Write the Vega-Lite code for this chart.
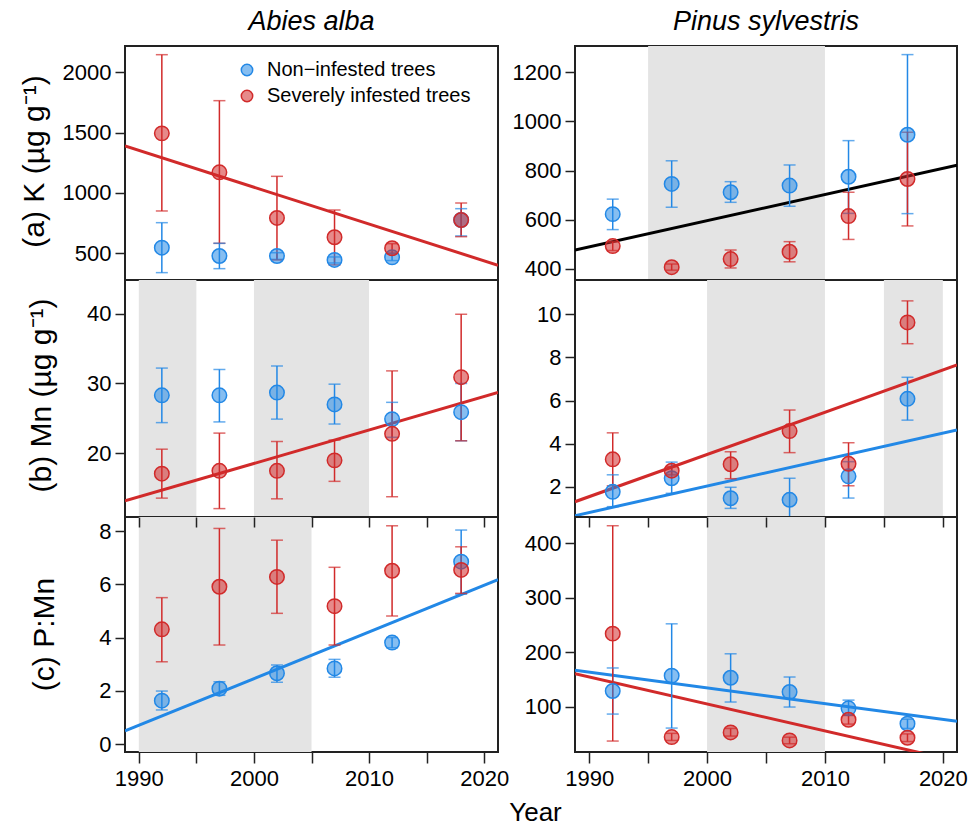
{
  "$schema": "https://vega.github.io/schema/vega-lite/v6.json",
  "autosize": "none",
  "padding": {"left": 125, "top": 46, "right": 845, "bottom": 779},
  "columns": 2,
  "spacing": {"row": 0, "column": 77},
  "bounds": "flush",
  "resolve": {"scale": {"color": "independent", "fill": "independent", "stroke": "independent"}},
  "datasets": {
    "pts": [
      {"panel": "aL", "group": "Non−infested trees", "year": 1992, "value": 547, "lo": 340, "hi": 754},
      {"panel": "aL", "group": "Non−infested trees", "year": 1997, "value": 478, "lo": 373, "hi": 583},
      {"panel": "aL", "group": "Non−infested trees", "year": 2002, "value": 478, "lo": 450, "hi": 505},
      {"panel": "aL", "group": "Non−infested trees", "year": 2007, "value": 445, "lo": 420, "hi": 470},
      {"panel": "aL", "group": "Non−infested trees", "year": 2012, "value": 467, "lo": 440, "hi": 500},
      {"panel": "aL", "group": "Non−infested trees", "year": 2018, "value": 776, "lo": 644, "hi": 870},
      {"panel": "aL", "group": "Severely infested trees", "year": 1992, "value": 1494, "lo": 851, "hi": 2146},
      {"panel": "aL", "group": "Severely infested trees", "year": 1997, "value": 1171, "lo": 583, "hi": 1765},
      {"panel": "aL", "group": "Severely infested trees", "year": 2002, "value": 793, "lo": 445, "hi": 1138},
      {"panel": "aL", "group": "Severely infested trees", "year": 2007, "value": 633, "lo": 404, "hi": 859},
      {"panel": "aL", "group": "Severely infested trees", "year": 2012, "value": 542, "lo": 500, "hi": 580},
      {"panel": "aL", "group": "Severely infested trees", "year": 2018, "value": 776, "lo": 638, "hi": 917},
      {"panel": "aR", "group": "Non−infested trees", "year": 1992, "value": 623, "lo": 560, "hi": 684},
      {"panel": "aR", "group": "Non−infested trees", "year": 1997, "value": 746, "lo": 651, "hi": 840},
      {"panel": "aR", "group": "Non−infested trees", "year": 2002, "value": 712, "lo": 671, "hi": 755},
      {"panel": "aR", "group": "Non−infested trees", "year": 2007, "value": 739, "lo": 655, "hi": 823},
      {"panel": "aR", "group": "Non−infested trees", "year": 2012, "value": 775, "lo": 626, "hi": 922},
      {"panel": "aR", "group": "Non−infested trees", "year": 2017, "value": 946, "lo": 625, "hi": 1272},
      {"panel": "aR", "group": "Severely infested trees", "year": 1992, "value": 493, "lo": 475, "hi": 510},
      {"panel": "aR", "group": "Severely infested trees", "year": 1997, "value": 407, "lo": 395, "hi": 420},
      {"panel": "aR", "group": "Severely infested trees", "year": 2002, "value": 440, "lo": 404, "hi": 477},
      {"panel": "aR", "group": "Severely infested trees", "year": 2007, "value": 470, "lo": 429, "hi": 511},
      {"panel": "aR", "group": "Severely infested trees", "year": 2012, "value": 615, "lo": 520, "hi": 712},
      {"panel": "aR", "group": "Severely infested trees", "year": 2017, "value": 766, "lo": 575, "hi": 956},
      {"panel": "bL", "group": "Non−infested trees", "year": 1992, "value": 28.3, "lo": 24.4, "hi": 32.2},
      {"panel": "bL", "group": "Non−infested trees", "year": 1997, "value": 28.3, "lo": 24.5, "hi": 32.0},
      {"panel": "bL", "group": "Non−infested trees", "year": 2002, "value": 28.7, "lo": 24.9, "hi": 32.5},
      {"panel": "bL", "group": "Non−infested trees", "year": 2007, "value": 27.0, "lo": 24.2, "hi": 29.9},
      {"panel": "bL", "group": "Non−infested trees", "year": 2012, "value": 24.9, "lo": 22.3, "hi": 27.3},
      {"panel": "bL", "group": "Non−infested trees", "year": 2018, "value": 25.9, "lo": 21.8, "hi": 30.0},
      {"panel": "bL", "group": "Severely infested trees", "year": 1992, "value": 17.1, "lo": 13.6, "hi": 20.6},
      {"panel": "bL", "group": "Severely infested trees", "year": 1997, "value": 17.5, "lo": 12.1, "hi": 22.9},
      {"panel": "bL", "group": "Severely infested trees", "year": 2002, "value": 17.5, "lo": 13.5, "hi": 21.7},
      {"panel": "bL", "group": "Severely infested trees", "year": 2007, "value": 19.0, "lo": 16.0, "hi": 21.9},
      {"panel": "bL", "group": "Severely infested trees", "year": 2012, "value": 22.8, "lo": 13.8, "hi": 31.8},
      {"panel": "bL", "group": "Severely infested trees", "year": 2018, "value": 30.9, "lo": 21.8, "hi": 39.9},
      {"panel": "bR", "group": "Non−infested trees", "year": 1992, "value": 1.76, "lo": 1.07, "hi": 2.55},
      {"panel": "bR", "group": "Non−infested trees", "year": 1997, "value": 2.39, "lo": 1.69, "hi": 3.14},
      {"panel": "bR", "group": "Non−infested trees", "year": 2002, "value": 1.46, "lo": 0.99, "hi": 1.97},
      {"panel": "bR", "group": "Non−infested trees", "year": 2007, "value": 1.39, "lo": 0.4, "hi": 2.39},
      {"panel": "bR", "group": "Non−infested trees", "year": 2012, "value": 2.48, "lo": 1.47, "hi": 3.16},
      {"panel": "bR", "group": "Non−infested trees", "year": 2017, "value": 6.08, "lo": 5.09, "hi": 7.08},
      {"panel": "bR", "group": "Severely infested trees", "year": 1992, "value": 3.27, "lo": 2.04, "hi": 4.5},
      {"panel": "bR", "group": "Severely infested trees", "year": 1997, "value": 2.74, "lo": 2.55, "hi": 2.93},
      {"panel": "bR", "group": "Severely infested trees", "year": 2002, "value": 3.04, "lo": 2.37, "hi": 3.62},
      {"panel": "bR", "group": "Severely infested trees", "year": 2007, "value": 4.58, "lo": 3.58, "hi": 5.56},
      {"panel": "bR", "group": "Severely infested trees", "year": 2012, "value": 3.06, "lo": 2.04, "hi": 4.04},
      {"panel": "bR", "group": "Severely infested trees", "year": 2017, "value": 9.63, "lo": 8.64, "hi": 10.63},
      {"panel": "cL", "group": "Non−infested trees", "year": 1992, "value": 1.63, "lo": 1.28, "hi": 1.99},
      {"panel": "cL", "group": "Non−infested trees", "year": 1997, "value": 2.08, "lo": 1.83, "hi": 2.34},
      {"panel": "cL", "group": "Non−infested trees", "year": 2002, "value": 2.66, "lo": 2.32, "hi": 2.97},
      {"panel": "cL", "group": "Non−infested trees", "year": 2007, "value": 2.84, "lo": 2.51, "hi": 3.18},
      {"panel": "cL", "group": "Non−infested trees", "year": 2012, "value": 3.81, "lo": 3.62, "hi": 4.0},
      {"panel": "cL", "group": "Non−infested trees", "year": 2018, "value": 6.85, "lo": 5.63, "hi": 8.04},
      {"panel": "cL", "group": "Severely infested trees", "year": 1992, "value": 4.31, "lo": 3.09, "hi": 5.5},
      {"panel": "cL", "group": "Severely infested trees", "year": 1997, "value": 5.91, "lo": 3.72, "hi": 8.1},
      {"panel": "cL", "group": "Severely infested trees", "year": 2002, "value": 6.28, "lo": 4.91, "hi": 7.66},
      {"panel": "cL", "group": "Severely infested trees", "year": 2007, "value": 5.18, "lo": 3.72, "hi": 6.64},
      {"panel": "cL", "group": "Severely infested trees", "year": 2012, "value": 6.51, "lo": 4.81, "hi": 8.2},
      {"panel": "cL", "group": "Severely infested trees", "year": 2018, "value": 6.54, "lo": 5.66, "hi": 7.41},
      {"panel": "cR", "group": "Non−infested trees", "year": 1992, "value": 128.7, "lo": 86.4, "hi": 171},
      {"panel": "cR", "group": "Non−infested trees", "year": 1997, "value": 156.8, "lo": 60.7, "hi": 252},
      {"panel": "cR", "group": "Non−infested trees", "year": 2002, "value": 153, "lo": 108.5, "hi": 197},
      {"panel": "cR", "group": "Non−infested trees", "year": 2007, "value": 126.9, "lo": 99.3, "hi": 154.4},
      {"panel": "cR", "group": "Non−infested trees", "year": 2012, "value": 96.9, "lo": 84, "hi": 112},
      {"panel": "cR", "group": "Non−infested trees", "year": 2017, "value": 68.7, "lo": 60, "hi": 77},
      {"panel": "cR", "group": "Severely infested trees", "year": 1992, "value": 234, "lo": 36.9, "hi": 432},
      {"panel": "cR", "group": "Severely infested trees", "year": 1997, "value": 44.2, "lo": 38, "hi": 51},
      {"panel": "cR", "group": "Severely infested trees", "year": 2002, "value": 52.8, "lo": 46, "hi": 60},
      {"panel": "cR", "group": "Severely infested trees", "year": 2007, "value": 38.1, "lo": 32, "hi": 44},
      {"panel": "cR", "group": "Severely infested trees", "year": 2012, "value": 76, "lo": 68, "hi": 84},
      {"panel": "cR", "group": "Severely infested trees", "year": 2017, "value": 43, "lo": 36, "hi": 50}
    ],
    "lines": [
      {"panel": "aL", "group": "Severely infested trees", "year": 1988.8, "value": 1389},
      {"panel": "aL", "group": "Severely infested trees", "year": 2021.2, "value": 401},
      {"panel": "aR", "group": "All trees", "year": 1988.8, "value": 477},
      {"panel": "aR", "group": "All trees", "year": 2021.2, "value": 822},
      {"panel": "bL", "group": "Severely infested trees", "year": 1988.8, "value": 13.2},
      {"panel": "bL", "group": "Severely infested trees", "year": 2021.2, "value": 28.7},
      {"panel": "bR", "group": "Non−infested trees", "year": 1988.8, "value": 0.65},
      {"panel": "bR", "group": "Non−infested trees", "year": 2021.2, "value": 4.63},
      {"panel": "bR", "group": "Severely infested trees", "year": 1988.8, "value": 1.3},
      {"panel": "bR", "group": "Severely infested trees", "year": 2021.2, "value": 7.65},
      {"panel": "cL", "group": "Non−infested trees", "year": 1988.8, "value": 0.49},
      {"panel": "cL", "group": "Non−infested trees", "year": 2021.2, "value": 6.18},
      {"panel": "cR", "group": "Non−infested trees", "year": 1988.8, "value": 166.7},
      {"panel": "cR", "group": "Non−infested trees", "year": 2021.2, "value": 73},
      {"panel": "cR", "group": "Severely infested trees", "year": 1988.8, "value": 160.5},
      {"panel": "cR", "group": "Severely infested trees", "year": 2021.2, "value": 0}
    ],
    "shade": [
      {"panel": "aR", "start": 1995, "end": 2010},
      {"panel": "bL", "start": 1990, "end": 1995},
      {"panel": "bL", "start": 2000, "end": 2010},
      {"panel": "bR", "start": 2000, "end": 2010},
      {"panel": "bR", "start": 2015, "end": 2020},
      {"panel": "cL", "start": 1990, "end": 2005},
      {"panel": "cR", "start": 2000, "end": 2010}
    ]
  },
  "concat": [
    {
      "width": 373, "height": 234,
      "title": {"text": "Abies alba", "fontStyle": "italic", "fontSize": 27, "fontWeight": "normal", "frame": "group", "anchor": "middle", "baseline": "alphabetic", "offset": 14, "dy": 25},
      "layer": [
        {"data": {"name": "lines"}, "transform": [{"filter": "datum.panel === 'aL'"}], "mark": {"type": "line", "strokeWidth": 3, "clip": true},
         "encoding": {"x": {"field": "year", "type": "quantitative", "axis": null, "scale": {"domain": [1988.8, 2021.2], "nice": false, "zero": false}},
                      "y": {"field": "value", "type": "quantitative", "scale": {"domain": [279, 2218], "nice": false, "zero": false},
                            "axis": {"values": [500, 1000, 1500, 2000], "format": "d", "tickSize": 10, "labelPadding": 4, "labelFontSize": 22, "title": "(a) K (µg g⁻¹)", "titleX": -82, "titleY": 115, "titleAngle": 270, "titleAlign": "center", "titleBaseline": "alphabetic", "titleFontSize": 30}},
                      "color": {"field": "group", "type": "nominal", "legend": null, "scale": {"domain": ["Non−infested trees", "Severely infested trees", "All trees"], "range": ["#2288E6", "#D12A2A", "#000000"]}}}},
        {"data": {"name": "pts"}, "transform": [{"filter": "datum.panel === 'aL'"}], "mark": {"type": "rule", "strokeWidth": 1.5, "clip": true},
         "encoding": {"x": {"field": "year", "type": "quantitative", "axis": null}, "y": {"field": "lo", "type": "quantitative"}, "y2": {"field": "hi"},
                      "color": {"field": "group", "type": "nominal", "legend": null, "scale": {"domain": ["Non−infested trees", "Severely infested trees", "All trees"], "range": ["#2288E6", "#D12A2A", "#000000"]}}}},
        {"data": {"name": "pts"}, "transform": [{"filter": "datum.panel === 'aL'"}], "mark": {"type": "tick", "orient": "horizontal", "size": 12, "thickness": 1.5, "clip": true},
         "encoding": {"x": {"field": "year", "type": "quantitative", "axis": null}, "y": {"field": "lo", "type": "quantitative"},
                      "color": {"field": "group", "type": "nominal", "legend": null, "scale": {"domain": ["Non−infested trees", "Severely infested trees", "All trees"], "range": ["#2288E6", "#D12A2A", "#000000"]}}}},
        {"data": {"name": "pts"}, "transform": [{"filter": "datum.panel === 'aL'"}], "mark": {"type": "tick", "orient": "horizontal", "size": 12, "thickness": 1.5, "clip": true},
         "encoding": {"x": {"field": "year", "type": "quantitative", "axis": null}, "y": {"field": "hi", "type": "quantitative"},
                      "color": {"field": "group", "type": "nominal", "legend": null, "scale": {"domain": ["Non−infested trees", "Severely infested trees", "All trees"], "range": ["#2288E6", "#D12A2A", "#000000"]}}}},
        {"data": {"name": "pts"}, "transform": [{"filter": "datum.panel === 'aL'"}], "mark": {"type": "circle", "size": 210, "strokeWidth": 1.5, "opacity": 1, "fillOpacity": 1, "clip": true},
         "encoding": {"x": {"field": "year", "type": "quantitative", "axis": null},
                      "y": {"field": "value", "type": "quantitative"},
                      "fill": {"field": "group", "type": "nominal", "scale": {"domain": ["Non−infested trees", "Severely infested trees"], "range": ["rgba(34,136,230,0.55)", "rgba(209,42,42,0.55)"]},
                               "legend": {"orient": "none", "legendX": 112, "legendY": 14, "title": null, "labelFontSize": 20, "labelLimit": 0, "symbolSize": 130, "symbolStrokeWidth": 1.5, "rowPadding": 6, "labelOffset": 10, "padding": 0, "symbolType": "circle"}},
                      "stroke": {"field": "group", "type": "nominal", "scale": {"domain": ["Non−infested trees", "Severely infested trees"], "range": ["#2288E6", "#D12A2A"]},
                               "legend": {"orient": "none", "legendX": 112, "legendY": 14, "title": null, "labelFontSize": 20, "labelLimit": 0, "symbolSize": 130, "symbolStrokeWidth": 1.5, "rowPadding": 6, "labelOffset": 10, "padding": 0, "symbolType": "circle"}}}}
      ]
    },
    {
      "width": 382, "height": 234,
      "title": {"text": "Pinus sylvestris", "fontStyle": "italic", "fontSize": 27, "fontWeight": "normal", "frame": "group", "anchor": "middle", "baseline": "alphabetic", "offset": 14, "dy": 25},
      "layer": [
        {"data": {"name": "shade"}, "transform": [{"filter": "datum.panel === 'aR'"}], "mark": {"type": "rect", "color": "#E4E4E4"},
         "encoding": {"x": {"field": "start", "type": "quantitative", "axis": null, "scale": {"domain": [1988.8, 2021.2], "nice": false, "zero": false}}, "x2": {"field": "end"}}},
        {"data": {"name": "lines"}, "transform": [{"filter": "datum.panel === 'aR'"}], "mark": {"type": "line", "strokeWidth": 3, "clip": true},
         "encoding": {"x": {"field": "year", "type": "quantitative", "axis": null},
                      "y": {"field": "value", "type": "quantitative", "scale": {"domain": [355, 1307], "nice": false, "zero": false},
                            "axis": {"values": [400, 600, 800, 1000, 1200], "format": "d", "tickSize": 10, "labelPadding": 4, "labelFontSize": 22, "title": null}},
                      "color": {"field": "group", "type": "nominal", "legend": null, "scale": {"domain": ["Non−infested trees", "Severely infested trees", "All trees"], "range": ["#2288E6", "#D12A2A", "#000000"]}}}},
        {"data": {"name": "pts"}, "transform": [{"filter": "datum.panel === 'aR'"}], "mark": {"type": "rule", "strokeWidth": 1.5, "clip": true},
         "encoding": {"x": {"field": "year", "type": "quantitative", "axis": null}, "y": {"field": "lo", "type": "quantitative"}, "y2": {"field": "hi"},
                      "color": {"field": "group", "type": "nominal", "legend": null, "scale": {"domain": ["Non−infested trees", "Severely infested trees", "All trees"], "range": ["#2288E6", "#D12A2A", "#000000"]}}}},
        {"data": {"name": "pts"}, "transform": [{"filter": "datum.panel === 'aR'"}], "mark": {"type": "tick", "orient": "horizontal", "size": 12, "thickness": 1.5, "clip": true},
         "encoding": {"x": {"field": "year", "type": "quantitative", "axis": null}, "y": {"field": "lo", "type": "quantitative"},
                      "color": {"field": "group", "type": "nominal", "legend": null, "scale": {"domain": ["Non−infested trees", "Severely infested trees", "All trees"], "range": ["#2288E6", "#D12A2A", "#000000"]}}}},
        {"data": {"name": "pts"}, "transform": [{"filter": "datum.panel === 'aR'"}], "mark": {"type": "tick", "orient": "horizontal", "size": 12, "thickness": 1.5, "clip": true},
         "encoding": {"x": {"field": "year", "type": "quantitative", "axis": null}, "y": {"field": "hi", "type": "quantitative"},
                      "color": {"field": "group", "type": "nominal", "legend": null, "scale": {"domain": ["Non−infested trees", "Severely infested trees", "All trees"], "range": ["#2288E6", "#D12A2A", "#000000"]}}}},
        {"data": {"name": "pts"}, "transform": [{"filter": "datum.panel === 'aR'"}], "mark": {"type": "circle", "size": 210, "strokeWidth": 1.5, "opacity": 1, "fillOpacity": 1, "clip": true},
         "encoding": {"x": {"field": "year", "type": "quantitative", "axis": null},
                      "y": {"field": "value", "type": "quantitative"},
                      "fill": {"field": "group", "type": "nominal", "legend": null, "scale": {"domain": ["Non−infested trees", "Severely infested trees"], "range": ["rgba(34,136,230,0.55)", "rgba(209,42,42,0.55)"]}},
                      "stroke": {"field": "group", "type": "nominal", "legend": null, "scale": {"domain": ["Non−infested trees", "Severely infested trees"], "range": ["#2288E6", "#D12A2A"]}}}}
      ]
    },
    {
      "width": 373, "height": 237,
      "layer": [
        {"data": {"name": "shade"}, "transform": [{"filter": "datum.panel === 'bL'"}], "mark": {"type": "rect", "color": "#E4E4E4"},
         "encoding": {"x": {"field": "start", "type": "quantitative", "scale": {"domain": [1988.8, 2021.2], "nice": false, "zero": false},
                            "axis": {"orient": "top", "values": [1990, 1995, 2000, 2005, 2010, 2015, 2020], "tickSize": -10, "labels": false, "title": null, "zindex": 1}}, "x2": {"field": "end"}}},
        {"data": {"name": "lines"}, "transform": [{"filter": "datum.panel === 'bL'"}], "mark": {"type": "line", "strokeWidth": 3, "clip": true},
         "encoding": {"x": {"field": "year", "type": "quantitative", "axis": null},
                      "y": {"field": "value", "type": "quantitative", "scale": {"domain": [10.9, 44.8], "nice": false, "zero": false},
                            "axis": {"values": [20, 30, 40], "format": "d", "tickSize": 10, "labelPadding": 4, "labelFontSize": 22, "title": "(b) Mn (µg g⁻¹)", "titleX": -75, "titleY": 115, "titleAngle": 270, "titleAlign": "center", "titleBaseline": "alphabetic", "titleFontSize": 30}},
                      "color": {"field": "group", "type": "nominal", "legend": null, "scale": {"domain": ["Non−infested trees", "Severely infested trees", "All trees"], "range": ["#2288E6", "#D12A2A", "#000000"]}}}},
        {"data": {"name": "pts"}, "transform": [{"filter": "datum.panel === 'bL'"}], "mark": {"type": "rule", "strokeWidth": 1.5, "clip": true},
         "encoding": {"x": {"field": "year", "type": "quantitative", "axis": null}, "y": {"field": "lo", "type": "quantitative"}, "y2": {"field": "hi"},
                      "color": {"field": "group", "type": "nominal", "legend": null, "scale": {"domain": ["Non−infested trees", "Severely infested trees", "All trees"], "range": ["#2288E6", "#D12A2A", "#000000"]}}}},
        {"data": {"name": "pts"}, "transform": [{"filter": "datum.panel === 'bL'"}], "mark": {"type": "tick", "orient": "horizontal", "size": 12, "thickness": 1.5, "clip": true},
         "encoding": {"x": {"field": "year", "type": "quantitative", "axis": null}, "y": {"field": "lo", "type": "quantitative"},
                      "color": {"field": "group", "type": "nominal", "legend": null, "scale": {"domain": ["Non−infested trees", "Severely infested trees", "All trees"], "range": ["#2288E6", "#D12A2A", "#000000"]}}}},
        {"data": {"name": "pts"}, "transform": [{"filter": "datum.panel === 'bL'"}], "mark": {"type": "tick", "orient": "horizontal", "size": 12, "thickness": 1.5, "clip": true},
         "encoding": {"x": {"field": "year", "type": "quantitative", "axis": null}, "y": {"field": "hi", "type": "quantitative"},
                      "color": {"field": "group", "type": "nominal", "legend": null, "scale": {"domain": ["Non−infested trees", "Severely infested trees", "All trees"], "range": ["#2288E6", "#D12A2A", "#000000"]}}}},
        {"data": {"name": "pts"}, "transform": [{"filter": "datum.panel === 'bL'"}], "mark": {"type": "circle", "size": 210, "strokeWidth": 1.5, "opacity": 1, "fillOpacity": 1, "clip": true},
         "encoding": {"x": {"field": "year", "type": "quantitative", "axis": null},
                      "y": {"field": "value", "type": "quantitative"},
                      "fill": {"field": "group", "type": "nominal", "legend": null, "scale": {"domain": ["Non−infested trees", "Severely infested trees"], "range": ["rgba(34,136,230,0.55)", "rgba(209,42,42,0.55)"]}},
                      "stroke": {"field": "group", "type": "nominal", "legend": null, "scale": {"domain": ["Non−infested trees", "Severely infested trees"], "range": ["#2288E6", "#D12A2A"]}}}}
      ]
    },
    {
      "width": 382, "height": 237,
      "layer": [
        {"data": {"name": "shade"}, "transform": [{"filter": "datum.panel === 'bR'"}], "mark": {"type": "rect", "color": "#E4E4E4"},
         "encoding": {"x": {"field": "start", "type": "quantitative", "scale": {"domain": [1988.8, 2021.2], "nice": false, "zero": false},
                            "axis": {"orient": "top", "values": [1990, 1995, 2000, 2005, 2010, 2015, 2020], "tickSize": -10, "labels": false, "title": null, "zindex": 1}}, "x2": {"field": "end"}}},
        {"data": {"name": "lines"}, "transform": [{"filter": "datum.panel === 'bR'"}], "mark": {"type": "line", "strokeWidth": 3, "clip": true},
         "encoding": {"x": {"field": "year", "type": "quantitative", "axis": null},
                      "y": {"field": "value", "type": "quantitative", "scale": {"domain": [0.59, 11.6], "nice": false, "zero": false},
                            "axis": {"values": [2, 4, 6, 8, 10], "format": "d", "tickSize": 10, "labelPadding": 4, "labelFontSize": 22, "title": null}},
                      "color": {"field": "group", "type": "nominal", "legend": null, "scale": {"domain": ["Non−infested trees", "Severely infested trees", "All trees"], "range": ["#2288E6", "#D12A2A", "#000000"]}}}},
        {"data": {"name": "pts"}, "transform": [{"filter": "datum.panel === 'bR'"}], "mark": {"type": "rule", "strokeWidth": 1.5, "clip": true},
         "encoding": {"x": {"field": "year", "type": "quantitative", "axis": null}, "y": {"field": "lo", "type": "quantitative"}, "y2": {"field": "hi"},
                      "color": {"field": "group", "type": "nominal", "legend": null, "scale": {"domain": ["Non−infested trees", "Severely infested trees", "All trees"], "range": ["#2288E6", "#D12A2A", "#000000"]}}}},
        {"data": {"name": "pts"}, "transform": [{"filter": "datum.panel === 'bR'"}], "mark": {"type": "tick", "orient": "horizontal", "size": 12, "thickness": 1.5, "clip": true},
         "encoding": {"x": {"field": "year", "type": "quantitative", "axis": null}, "y": {"field": "lo", "type": "quantitative"},
                      "color": {"field": "group", "type": "nominal", "legend": null, "scale": {"domain": ["Non−infested trees", "Severely infested trees", "All trees"], "range": ["#2288E6", "#D12A2A", "#000000"]}}}},
        {"data": {"name": "pts"}, "transform": [{"filter": "datum.panel === 'bR'"}], "mark": {"type": "tick", "orient": "horizontal", "size": 12, "thickness": 1.5, "clip": true},
         "encoding": {"x": {"field": "year", "type": "quantitative", "axis": null}, "y": {"field": "hi", "type": "quantitative"},
                      "color": {"field": "group", "type": "nominal", "legend": null, "scale": {"domain": ["Non−infested trees", "Severely infested trees", "All trees"], "range": ["#2288E6", "#D12A2A", "#000000"]}}}},
        {"data": {"name": "pts"}, "transform": [{"filter": "datum.panel === 'bR'"}], "mark": {"type": "circle", "size": 210, "strokeWidth": 1.5, "opacity": 1, "fillOpacity": 1, "clip": true},
         "encoding": {"x": {"field": "year", "type": "quantitative", "axis": null},
                      "y": {"field": "value", "type": "quantitative"},
                      "fill": {"field": "group", "type": "nominal", "legend": null, "scale": {"domain": ["Non−infested trees", "Severely infested trees"], "range": ["rgba(34,136,230,0.55)", "rgba(209,42,42,0.55)"]}},
                      "stroke": {"field": "group", "type": "nominal", "legend": null, "scale": {"domain": ["Non−infested trees", "Severely infested trees"], "range": ["#2288E6", "#D12A2A"]}}}}
      ]
    },
    {
      "width": 373, "height": 235,
      "layer": [
        {"data": {"name": "shade"}, "transform": [{"filter": "datum.panel === 'cL'"}], "mark": {"type": "rect", "color": "#E4E4E4"},
         "encoding": {"x": {"field": "start", "type": "quantitative", "scale": {"domain": [1988.8, 2021.2], "nice": false, "zero": false},
                            "axis": {"orient": "top", "values": [1990, 1995, 2000, 2005, 2010, 2015, 2020], "tickSize": -10, "labels": false, "title": null, "zindex": 1}}, "x2": {"field": "end"}}},
        {"data": {"name": "lines"}, "transform": [{"filter": "datum.panel === 'cL'"}], "mark": {"type": "line", "strokeWidth": 3, "clip": true},
         "encoding": {"x": {"field": "year", "type": "quantitative", "axis": null},
                      "y": {"field": "value", "type": "quantitative", "scale": {"domain": [-0.3, 8.53], "nice": false, "zero": false},
                            "axis": {"values": [0, 2, 4, 6, 8], "format": "d", "tickSize": 10, "labelPadding": 4, "labelFontSize": 22, "title": "(c) P:Mn", "titleX": -72, "titleY": 117, "titleAngle": 270, "titleAlign": "center", "titleBaseline": "alphabetic", "titleFontSize": 30}},
                      "color": {"field": "group", "type": "nominal", "legend": null, "scale": {"domain": ["Non−infested trees", "Severely infested trees", "All trees"], "range": ["#2288E6", "#D12A2A", "#000000"]}}}},
        {"data": {"name": "pts"}, "transform": [{"filter": "datum.panel === 'cL'"}], "mark": {"type": "rule", "strokeWidth": 1.5, "clip": true},
         "encoding": {"x": {"field": "year", "type": "quantitative", "axis": null}, "y": {"field": "lo", "type": "quantitative"}, "y2": {"field": "hi"},
                      "color": {"field": "group", "type": "nominal", "legend": null, "scale": {"domain": ["Non−infested trees", "Severely infested trees", "All trees"], "range": ["#2288E6", "#D12A2A", "#000000"]}}}},
        {"data": {"name": "pts"}, "transform": [{"filter": "datum.panel === 'cL'"}], "mark": {"type": "tick", "orient": "horizontal", "size": 12, "thickness": 1.5, "clip": true},
         "encoding": {"x": {"field": "year", "type": "quantitative", "axis": null}, "y": {"field": "lo", "type": "quantitative"},
                      "color": {"field": "group", "type": "nominal", "legend": null, "scale": {"domain": ["Non−infested trees", "Severely infested trees", "All trees"], "range": ["#2288E6", "#D12A2A", "#000000"]}}}},
        {"data": {"name": "pts"}, "transform": [{"filter": "datum.panel === 'cL'"}], "mark": {"type": "tick", "orient": "horizontal", "size": 12, "thickness": 1.5, "clip": true},
         "encoding": {"x": {"field": "year", "type": "quantitative", "axis": null}, "y": {"field": "hi", "type": "quantitative"},
                      "color": {"field": "group", "type": "nominal", "legend": null, "scale": {"domain": ["Non−infested trees", "Severely infested trees", "All trees"], "range": ["#2288E6", "#D12A2A", "#000000"]}}}},
        {"data": {"name": "pts"}, "transform": [{"filter": "datum.panel === 'cL'"}], "mark": {"type": "circle", "size": 210, "strokeWidth": 1.5, "opacity": 1, "fillOpacity": 1, "clip": true},
         "encoding": {"x": {"field": "year", "type": "quantitative",
                            "axis": {"orient": "bottom", "values": [1990, 1995, 2000, 2005, 2010, 2015, 2020], "format": "d", "labelExpr": "datum.value % 10 === 0 ? datum.label : ''", "tickSize": 11, "labelPadding": 5, "labelFontSize": 22, "title": "Year", "titleX": 410, "titleY": 68, "titleAlign": "center", "titleBaseline": "alphabetic", "titleFontSize": 26}},
                      "y": {"field": "value", "type": "quantitative"},
                      "fill": {"field": "group", "type": "nominal", "legend": null, "scale": {"domain": ["Non−infested trees", "Severely infested trees"], "range": ["rgba(34,136,230,0.55)", "rgba(209,42,42,0.55)"]}},
                      "stroke": {"field": "group", "type": "nominal", "legend": null, "scale": {"domain": ["Non−infested trees", "Severely infested trees"], "range": ["#2288E6", "#D12A2A"]}}}}
      ]
    },
    {
      "width": 382, "height": 235,
      "layer": [
        {"data": {"name": "shade"}, "transform": [{"filter": "datum.panel === 'cR'"}], "mark": {"type": "rect", "color": "#E4E4E4"},
         "encoding": {"x": {"field": "start", "type": "quantitative", "scale": {"domain": [1988.8, 2021.2], "nice": false, "zero": false},
                            "axis": {"orient": "top", "values": [1990, 1995, 2000, 2005, 2010, 2015, 2020], "tickSize": -10, "labels": false, "title": null, "zindex": 1}}, "x2": {"field": "end"}}},
        {"data": {"name": "lines"}, "transform": [{"filter": "datum.panel === 'cR'"}], "mark": {"type": "line", "strokeWidth": 3, "clip": true},
         "encoding": {"x": {"field": "year", "type": "quantitative", "axis": null},
                      "y": {"field": "value", "type": "quantitative", "scale": {"domain": [16.8, 448], "nice": false, "zero": false},
                            "axis": {"values": [100, 200, 300, 400], "format": "d", "tickSize": 10, "labelPadding": 4, "labelFontSize": 22, "title": null}},
                      "color": {"field": "group", "type": "nominal", "legend": null, "scale": {"domain": ["Non−infested trees", "Severely infested trees", "All trees"], "range": ["#2288E6", "#D12A2A", "#000000"]}}}},
        {"data": {"name": "pts"}, "transform": [{"filter": "datum.panel === 'cR'"}], "mark": {"type": "rule", "strokeWidth": 1.5, "clip": true},
         "encoding": {"x": {"field": "year", "type": "quantitative", "axis": null}, "y": {"field": "lo", "type": "quantitative"}, "y2": {"field": "hi"},
                      "color": {"field": "group", "type": "nominal", "legend": null, "scale": {"domain": ["Non−infested trees", "Severely infested trees", "All trees"], "range": ["#2288E6", "#D12A2A", "#000000"]}}}},
        {"data": {"name": "pts"}, "transform": [{"filter": "datum.panel === 'cR'"}], "mark": {"type": "tick", "orient": "horizontal", "size": 12, "thickness": 1.5, "clip": true},
         "encoding": {"x": {"field": "year", "type": "quantitative", "axis": null}, "y": {"field": "lo", "type": "quantitative"},
                      "color": {"field": "group", "type": "nominal", "legend": null, "scale": {"domain": ["Non−infested trees", "Severely infested trees", "All trees"], "range": ["#2288E6", "#D12A2A", "#000000"]}}}},
        {"data": {"name": "pts"}, "transform": [{"filter": "datum.panel === 'cR'"}], "mark": {"type": "tick", "orient": "horizontal", "size": 12, "thickness": 1.5, "clip": true},
         "encoding": {"x": {"field": "year", "type": "quantitative", "axis": null}, "y": {"field": "hi", "type": "quantitative"},
                      "color": {"field": "group", "type": "nominal", "legend": null, "scale": {"domain": ["Non−infested trees", "Severely infested trees", "All trees"], "range": ["#2288E6", "#D12A2A", "#000000"]}}}},
        {"data": {"name": "pts"}, "transform": [{"filter": "datum.panel === 'cR'"}], "mark": {"type": "circle", "size": 210, "strokeWidth": 1.5, "opacity": 1, "fillOpacity": 1, "clip": true},
         "encoding": {"x": {"field": "year", "type": "quantitative",
                            "axis": {"orient": "bottom", "values": [1990, 1995, 2000, 2005, 2010, 2015, 2020], "format": "d", "labelExpr": "datum.value % 10 === 0 ? datum.label : ''", "tickSize": 11, "labelPadding": 5, "labelFontSize": 22, "title": null}},
                      "y": {"field": "value", "type": "quantitative"},
                      "fill": {"field": "group", "type": "nominal", "legend": null, "scale": {"domain": ["Non−infested trees", "Severely infested trees"], "range": ["rgba(34,136,230,0.55)", "rgba(209,42,42,0.55)"]}},
                      "stroke": {"field": "group", "type": "nominal", "legend": null, "scale": {"domain": ["Non−infested trees", "Severely infested trees"], "range": ["#2288E6", "#D12A2A"]}}}}
      ]
    }
  ],
  "config": {
    "font": "Liberation Sans",
    "background": "white",
    "view": {"stroke": "#222222", "strokeWidth": 2},
    "axis": {"grid": false, "domain": false, "tickColor": "#222222", "tickWidth": 1.5, "labelColor": "#000000", "labelFont": "Liberation Sans", "labelFontSize": 22, "titleFont": "Liberation Sans", "titleFontWeight": "normal", "titleColor": "#000000"},
    "legend": {"labelFont": "Liberation Sans", "labelColor": "#000000"},
    "title": {"font": "Liberation Sans", "color": "#000000"}
  }
}
